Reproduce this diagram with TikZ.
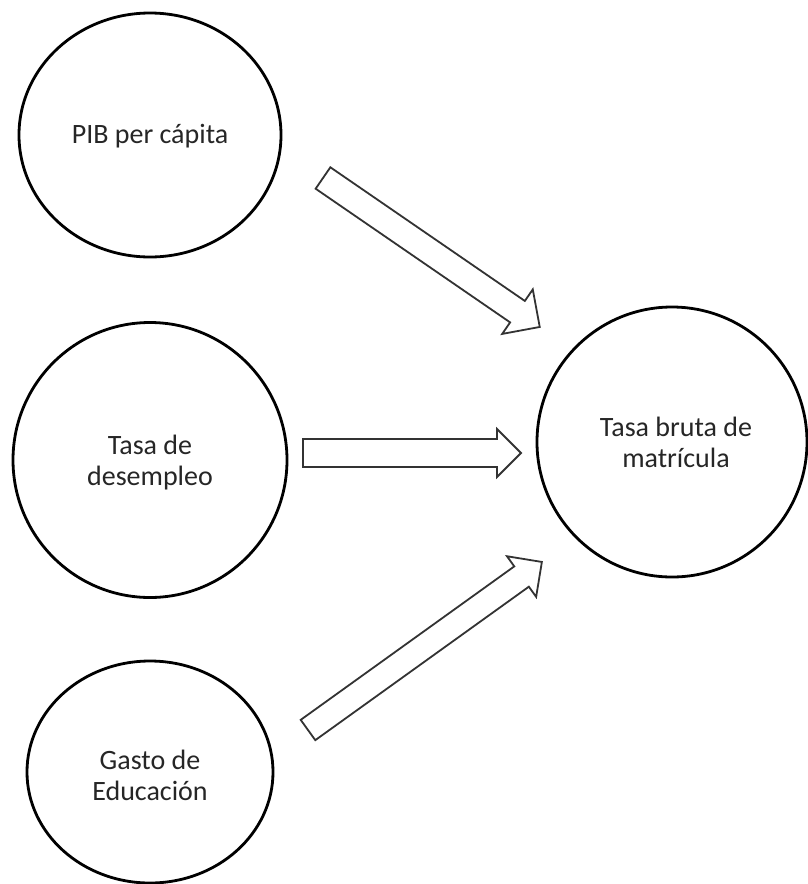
\documentclass[tikz,border=0pt]{standalone}
\usepackage{fontspec}
\setmainfont{Carlito}
\usetikzlibrary{shapes.geometric}
\tikzset{
  bubble/.style={ellipse, draw=black, line width=2.8pt, fill=white, inner sep=0pt,
    align=center},
  bubbletext/.style={align=center, text=black!85, font=\fontsize{28}{31}\selectfont},
  arrowline/.style={draw=black!80, line width=1.8pt, fill=white, line join=miter},
  pics/blockarr/.style n args={4}{code={
    \draw[arrowline] (0,-#2) -- ({#1-#4},-#2) -- ({#1-#4},-#3) -- (#1,0)
      -- ({#1-#4},#3) -- ({#1-#4},#2) -- (0,#2) -- cycle;
  }}
}
\begin{document}
\begin{tikzpicture}[x=1pt,y=-1pt]
\useasboundingbox (0,0) rectangle (807,884);
\fill[white] (0,0) rectangle (807,884);
\node[bubble, minimum width=262pt, minimum height=244pt] (pib) at (150,135) {};
\node[bubble, minimum width=274pt, minimum height=275pt] (des) at (150,460) {};
\node[bubble, minimum width=246pt, minimum height=222pt] (gas) at (150,772) {};
\node[bubble, minimum width=270pt, minimum height=270pt] (tbm) at (672,442) {};
\node[bubbletext] (pibt) at ([yshift=-1pt]pib.center) {PIB per cápita};
\node[bubbletext] (dest) at ([yshift=-3pt]des.center) {Tasa de\\desempleo};
\node[bubbletext] (gast) at ([yshift=-3pt]gas.center) {Gasto de\\Educación};
\node[bubbletext] (tbmt) at ([xshift=4pt]tbm.center) {Tasa bruta de\\matrícula};
\coordinate (a1) at (323,178);
\coordinate (a2) at (303,453);
\coordinate (a3) at (308,730);
\pic[rotate=-34.5] at (a1) {blockarr={263}{13}{27}{27}};
\pic at (a2) {blockarr={218}{14}{24}{24}};
\pic[rotate=35.7] at (a3) {blockarr={288}{12.5}{25}{25}};
\end{tikzpicture}
\end{document}
